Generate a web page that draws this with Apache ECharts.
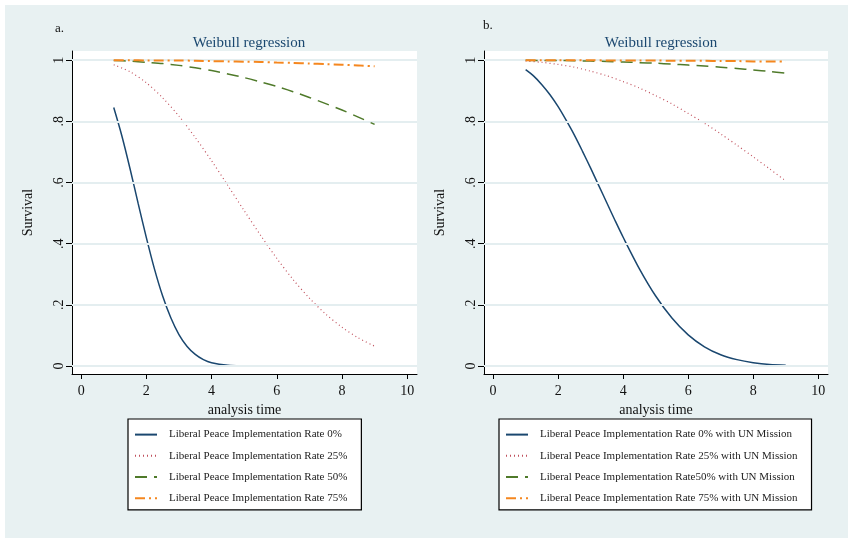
<!DOCTYPE html>
<html>
<head>
<meta charset="utf-8">
<script src="https://cdn.jsdelivr.net/npm/echarts@6/dist/echarts.min.js"></script>
<style>
html,body{margin:0;padding:0;background:#ffffff;}
#bg{position:absolute;left:5px;top:5px;width:843px;height:533px;background:#e8f1f2;}
#chart{position:absolute;left:0;top:0;width:848px;height:538px;}
</style>
</head>
<body>
<div id="bg"></div>
<div id="chart"></div>
<script>
// analysis time points
const timeFine = [1,1.25,1.5,1.75,2,2.25,2.5,2.75,3,3.25,3.5,3.75,4,4.5,5,5.5,6,6.5,7,7.5,8,8.5,9];
const timeHalf = [1,1.5,2,2.5,3,3.5,4,4.5,5,5.5,6,6.5,7,7.5,8,8.5,9];

// panel a
const blueA = [0.845,0.752,0.645,0.531,0.420,0.317,0.229,0.158,0.103,0.064,0.038,0.021,0.011,0.003,0.001,0,0,0,0,0,0,0,0];
const redA = [0.985,0.962,0.926,0.877,0.817,0.747,0.671,0.590,0.508,0.428,0.352,0.283,0.222,0.170,0.127,0.092,0.065];
const greenA = [0.999,0.997,0.993,0.989,0.983,0.975,0.966,0.955,0.943,0.929,0.914,0.897,0.878,0.858,0.837,0.814,0.790];
const orangeA = [1.000,1.000,0.999,0.999,0.999,0.998,0.997,0.996,0.995,0.994,0.992,0.991,0.989,0.987,0.985,0.983,0.980];

// panel b
const blueB = [0.969,0.948,0.920,0.887,0.848,0.803,0.755,0.702,0.647,0.590,0.533,0.476,0.421,0.318,0.229,0.157,0.102,0.063,0.037,0.021,0.011,0.005,0.003];
const redB = [0.997,0.993,0.986,0.977,0.964,0.949,0.930,0.909,0.884,0.857,0.826,0.794,0.759,0.722,0.684,0.645,0.605];
const greenB = [1.000,0.999,0.999,0.998,0.997,0.996,0.994,0.992,0.990,0.987,0.984,0.981,0.977,0.973,0.968,0.963,0.958];
const orangeB = [1.000,1.000,1.000,1.000,1.000,0.999,0.999,0.999,0.999,0.998,0.998,0.998,0.997,0.997,0.996,0.996,0.995];

const namesA = ['Liberal Peace Implementation Rate 0%','Liberal Peace Implementation Rate 25%','Liberal Peace Implementation Rate 50%','Liberal Peace Implementation Rate 75%'];
const namesB = ['Liberal Peace Implementation Rate 0% with UN Mission','Liberal Peace Implementation Rate 25% with UN Mission','Liberal Peace Implementation Rate50% with UN Mission','Liberal Peace Implementation Rate 75% with UN Mission'];

const xTicks = [0,2,4,6,8,10];
const yTicks = [0,0.2,0.4,0.6,0.8,1];
const yTickLabels = {'0':'0','0.2':'.2','0.4':'.4','0.6':'.6','0.8':'.8','1':'1'};
const panelTitle = 'Weibull regression';

const FONT = '"Liberation Serif","DejaVu Serif",serif';
const colors = ['#1a476f','#c0505c','#4f7a2a','#f5871f'];
const styles = [
  {type:'solid', width:1.5},
  {type:[1,3], width:1.2},
  {type:[12,7], width:1.5},
  {type:[10,4,2,4], width:2}
];

function zip(t, v){ return t.map((x,i)=>[x, v[i]]); }

function xAxisFor(idx){
  return {
    type:'value', gridIndex:idx, min:-0.28, max:10.3,
    name:'analysis time', nameLocation:'middle', nameGap:23,
    nameTextStyle:{fontFamily:FONT, fontSize:14, color:'#111'},
    axisLine:{show:true, onZero:false, lineStyle:{color:'#000', width:1}},
    axisTick:{show:true, customValues:xTicks, length:5, lineStyle:{color:'#000'}},
    axisLabel:{customValues:xTicks, fontFamily:FONT, fontSize:14, color:'#111', margin:10},
    splitLine:{show:false}
  };
}
function yAxisFor(idx){
  return {
    type:'value', gridIndex:idx, min:-0.026, max:1.03,
    name:'Survival', nameLocation:'middle', nameGap:37, nameRotate:90,
    nameTextStyle:{fontFamily:FONT, fontSize:14, color:'#111'},
    axisLine:{show:true, onZero:false, lineStyle:{color:'#000', width:1}},
    axisTick:{show:true, customValues:yTicks, length:6, lineStyle:{color:'#000'}},
    axisLabel:{customValues:yTicks, rotate:90, fontFamily:FONT, fontSize:14, color:'#111', margin:6,
      formatter:(v)=>yTickLabels[String(Math.round(v*10)/10)] ?? ''},
    splitLine:{show:false}
  };
}

const series = [];
[0,1].forEach(function(g){
  series.push({
    name:'grid'+g, type:'line', xAxisIndex:g, yAxisIndex:g, data:[], z:1, silent:true,
    markLine:{silent:true, symbol:['none','none'], label:{show:false},
      lineStyle:{color:'#e4eef0', width:2, type:'solid'},
      data: yTicks.map(v=>({yAxis:v}))}
  });
});
const setA = [zip(timeFine,blueA), zip(timeHalf,redA), zip(timeHalf,greenA), zip(timeHalf,orangeA)];
const setB = [zip(timeFine,blueB), zip(timeHalf,redB), zip(timeHalf,greenB), zip(timeHalf,orangeB)];
[[setA,namesA,0],[setB,namesB,1]].forEach(function(p){
  p[0].forEach(function(d,i){
    series.push({
      name:p[1][i], type:'line', xAxisIndex:p[2], yAxisIndex:p[2], data:d,
      smooth:0.3, symbol:'none', showSymbol:false, z:3+i,
      color:colors[i],
      lineStyle:Object.assign({color:colors[i]}, styles[i])
    });
  });
});

function legendFor(names, left){
  return {
    data:names, orient:'vertical', left:left, top:419,
    itemWidth:22, itemHeight:14, itemGap:10,
    padding:[10,14,6,6],
    itemStyle:{opacity:0},
    backgroundColor:'#ffffff', borderColor:'#000', borderWidth:1.2,
    textStyle:{fontFamily:FONT, fontSize:11, color:'#222', padding:[0,0,0,7]},
    selectedMode:false
  };
}

const chart = echarts.init(document.getElementById('chart'), null, {renderer:'canvas'});
chart.setOption({
  backgroundColor:'transparent',
  animation:false,
  title:[
    {text:panelTitle, left:244, top:31, textAlign:'center', textStyle:{fontFamily:FONT, fontSize:15, fontWeight:'normal', color:'#1a476f'}},
    {text:panelTitle, left:656, top:31, textAlign:'center', textStyle:{fontFamily:FONT, fontSize:15, fontWeight:'normal', color:'#1a476f'}}
  ],
  graphic:[
    {type:'rect', shape:{x:72,y:51,width:345,height:323}, style:{fill:'#ffffff'}, z:-1, silent:true},
    {type:'rect', shape:{x:484,y:51,width:344,height:323}, style:{fill:'#ffffff'}, z:-1, silent:true},
    {type:'text', left:55, top:22, style:{text:'a.', font:'13px '+FONT, fill:'#111'}},
    {type:'text', left:483, top:19, style:{text:'b.', font:'13px '+FONT, fill:'#111'}}
  ],
  grid:[
    {left:72, top:51, width:345, height:323, containLabel:false},
    {left:484, top:51, width:344, height:323, containLabel:false}
  ],
  xAxis:[xAxisFor(0), xAxisFor(1)],
  yAxis:[yAxisFor(0), yAxisFor(1)],
  legend:[legendFor(namesA,128), legendFor(namesB,499)],
  series:series
});
</script>
</body>
</html>
